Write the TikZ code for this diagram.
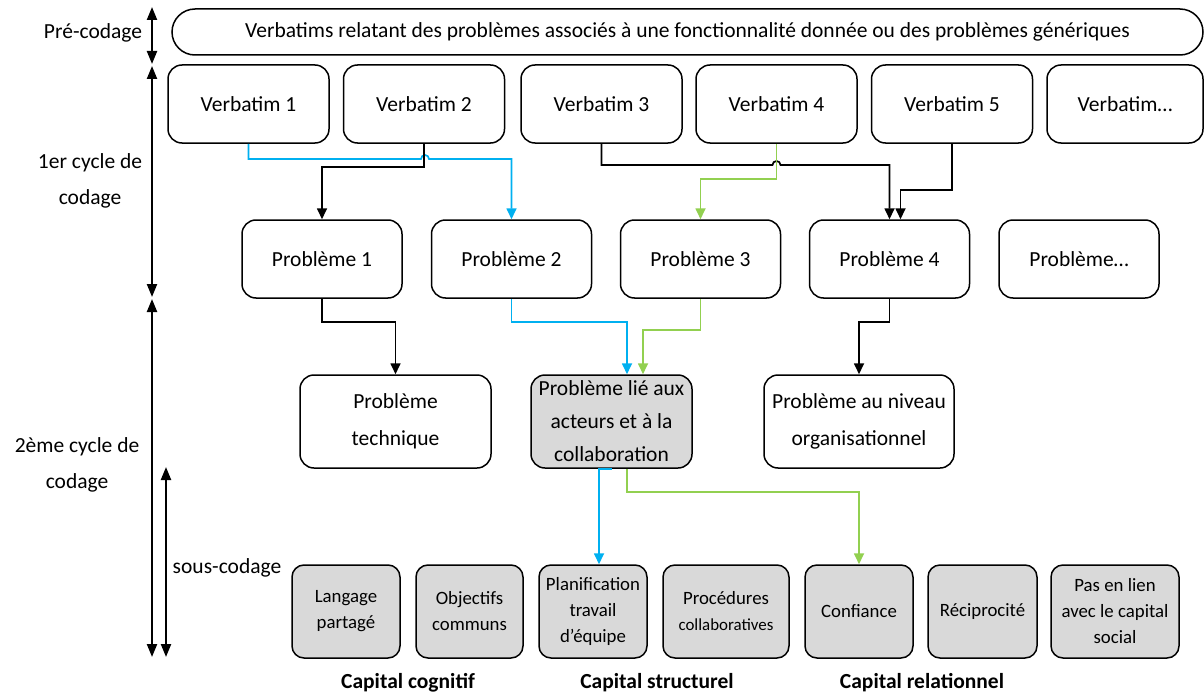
\documentclass[tikz,border=0pt]{standalone}
\usepackage{fontspec}
\setmainfont{Carlito}
\usetikzlibrary{arrows.meta}
\definecolor{linkblue}{HTML}{00B0F0}
\definecolor{linkgreen}{HTML}{92D050}
\definecolor{codegray}{HTML}{D9D9D9}

\begin{document}
\begin{tikzpicture}[x=1pt, y=-1pt,
box/.style={draw, line width=1.5pt, rounded corners=14pt, inner sep=0pt, align=center, font=\fontsize{21.5}{37}\selectfont},
verb/.style={box, minimum width=161pt, minimum height=78pt},
prob/.style={box, minimum width=160pt, minimum height=78pt},
theme/.style={box, minimum height=93pt},
code/.style={box, fill=codegray, rounded corners=12pt, minimum width=108pt, minimum height=93pt, font=\fontsize{18.8}{26}\selectfont},
stage/.style={align=center, font=\fontsize{21.5}{36}\selectfont},
capital/.style={font=\fontsize{21.5}{26}\selectfont\bfseries},
link/.style={line width=1.7pt, -{Triangle[length=11pt,width=10pt]}},
span/.style={line width=2.2pt, {Triangle[length=13pt,width=10pt]}-{Triangle[length=13pt,width=10pt]}}]

\useasboundingbox (0,0) rectangle (1204,698);

\node[box, rounded corners=23pt, minimum width=1031pt, minimum height=46pt] (banner) at (687.5,32) {Verbatims relatant des problèmes associés à une fonctionnalité donnée ou des problèmes génériques};

\foreach \i/\x in {1/248.5,2/424,3/601.5,4/776.5,5/952}
  \node[verb] (v\i) at (\x,104) {Verbatim \i};
\node[verb, minimum width=156pt] (vx) at (1125,104) {Verbatim…};

\foreach \i/\x in {1/322,2/511.5,3/700.5,4/889.5}
  \node[prob] (p\i) at (\x,259) {Problème \i};
\node[prob] (px) at (1079,259) {Problème…};

\node[theme, minimum width=191pt] (tech) at (395.5,421.5) {Problème\\technique};
\node[theme, fill=codegray, minimum width=161pt, font=\fontsize{21.5}{33}\selectfont] (actors) at (611.5,421.5) {Problème lié aux\\acteurs et à la\\collaboration};
\node[theme, minimum width=190pt] (org) at (859,421.5) {Problème au niveau\\organisationnel};

\node[code] (lang) at (346,611.5) {Langage\\partagé};
\node[code, minimum width=107pt] (obj) at (469.5,611.5) {Objectifs\\communs};
\node[code] (plan) at (593,611.5) {Planification\\travail\\d’équipe};
\node[code, minimum width=126pt] (proc) at (726,611.5) {Procédures\\{\fontsize{16.9}{26}\selectfont collaboratives}};
\node[code] (conf) at (859,611.5) {Confiance};
\node[code, minimum width=109pt] (reci) at (982.5,611.5) {Réciprocité};
\node[code, minimum width=128pt] (none) at (1115,611.5) {Pas en lien\\avec le capital\\social};

\node[capital] (cogn) at (408,683) {Capital cognitif};
\node[capital] (struct) at (657,683) {Capital structurel};
\node[capital] (rel) at (922,683) {Capital relationnel};

%%%%%%%%%%%%
\node[stage] (pre) at (93,33) {Pré-codage};
\node[stage] (first) at (90,181) {1er cycle de\\codage};
\node[stage] (second) at (77,465) {2ème cycle de\\codage};
\node[stage] (sub) at (227,568) {sous-codage};

\coordinate (a0) at (152,7);
\coordinate (a1) at (152,64);
\coordinate (a2) at (152,66);
\coordinate (a3) at (152,297);
\coordinate (a4) at (152,299);
\coordinate (a5) at (152,657);
\coordinate (s0) at (166,467);
\coordinate (s1) at (166,657);
\draw[span] (a0) -- (a1);
\draw[span] (a2) -- (a3);
\draw[span] (a4) -- (a5);
\draw[span] (s0) -- (s1);

%%%%%%%%%%%%
\draw[link, linkblue] (v1.south) |- (421,159) arc[start angle=180, end angle=360, radius=4] -| (p2.north);
\draw[link] (v2.south) -- ++(0,23) -| (p1.north);
\draw[link] (v3.south) |- (772.5,165) arc[start angle=180, end angle=360, radius=4] -| (p4.north);
\draw[link, linkgreen] (v4.south) -- ++(0,35) -| (p3.north);
\draw[link] (v5.south) -- ++(0,46) -| ([xshift=11pt]p4.north);
%%%%%%%%%%%%
\draw[link] (p1.south) -- ++(0,23) -| (tech.north);
\draw[link, linkblue] (p2.south) -- ++(0,23) -| ([xshift=15.5pt]actors.north);
\draw[link, linkgreen] (p3.south) -- ++(0,31) -| ([xshift=31.5pt]actors.north);
\draw[link] (p4.south) -- ++(0,23) -| (org.north);
%%%%%%%%%%%%
\draw[link, linkblue] (actors.south) -- ++(-12.5,0) -- ([xshift=6pt]plan.north);
\draw[link, linkgreen] ([xshift=15.5pt]actors.south) -- ++(0,23) -| (conf.north);
\end{tikzpicture}
\end{document}
